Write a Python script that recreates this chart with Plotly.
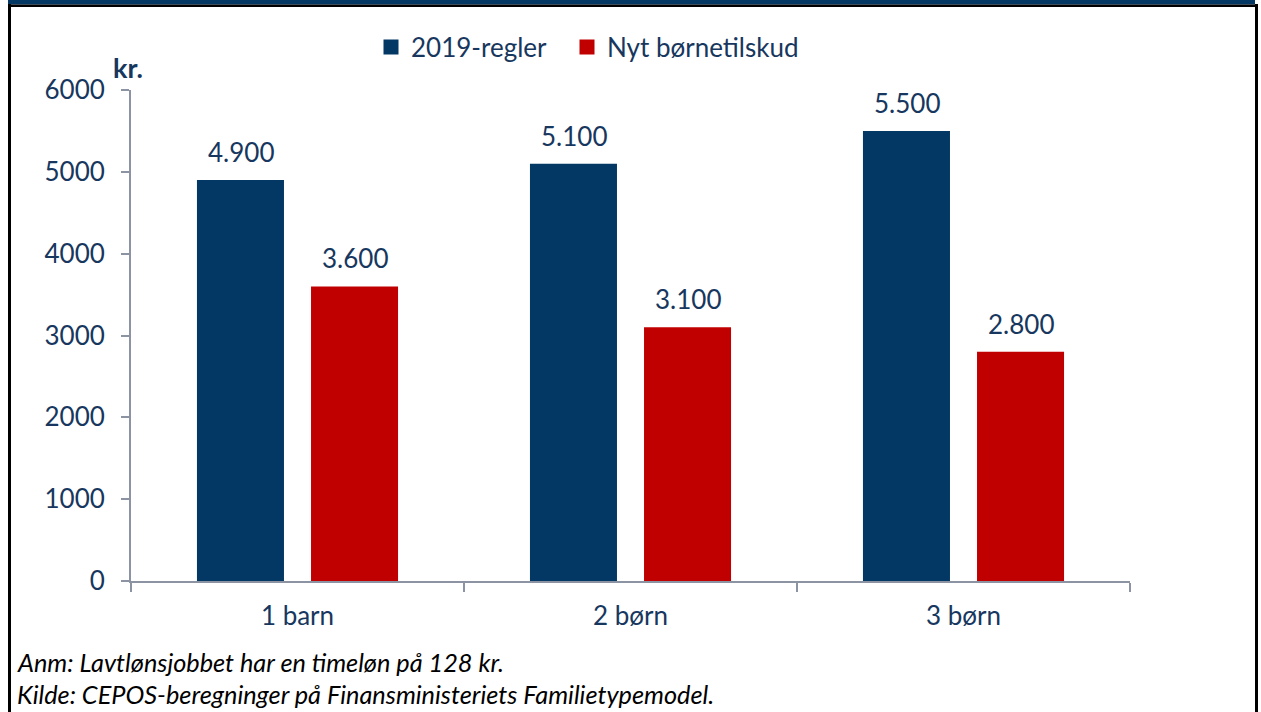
import plotly.graph_objects as go

categories = ["1 barn", "2 børn", "3 børn"]
regler_2019 = [4900, 5100, 5500]
nyt_tilskud = [3600, 3100, 2800]
labels_2019 = ["4.900", "5.100", "5.500"]
labels_nyt = ["3.600", "3.100", "2.800"]
y_ticks = [0, 1000, 2000, 3000, 4000, 5000, 6000]

NAVY = "#033864"
RED = "#C00000"
TXT = "#17375E"
AX = "#8C94A3"
FONT = "Lato"

W, H = 1261, 712
L, R, T, B = 131, 131, 90, 131
PW = W - L - R
PH = H - T - B


def px(xp):
    return (xp - L) / PW


def py(yp):
    return (H - B - yp) / PH


fig = go.Figure()
fig.add_bar(x=categories, y=regler_2019, name="2019-regler", marker_color=NAVY,
            marker_line_width=0, showlegend=False)
fig.add_bar(x=categories, y=nyt_tilskud, name="Nyt børnetilskud", marker_color=RED,
            marker_line_width=0, showlegend=False)
# legend entries with square symbols
fig.add_scatter(x=[None], y=[None], mode="markers", name="2019-regler",
                marker=dict(symbol="square", size=15, color=NAVY), legend="legend")
fig.add_scatter(x=[None], y=[None], mode="markers", name="Nyt børnetilskud",
                marker=dict(symbol="square", size=15, color=RED), legend="legend2")

annotations = []
for c, v, t in zip(categories, regler_2019, labels_2019):
    annotations.append(dict(x=c, y=v, text=t, showarrow=False, xref="x", yref="y",
                            xshift=-57, yshift=10, yanchor="bottom",
                            font=dict(family=FONT, size=26, color=TXT)))
for c, v, t in zip(categories, nyt_tilskud, labels_nyt):
    annotations.append(dict(x=c, y=v, text=t, showarrow=False, xref="x", yref="y",
                            xshift=57, yshift=10, yanchor="bottom",
                            font=dict(family=FONT, size=26, color=TXT)))

annotations.append(dict(x=px(111), y=py(68), xref="paper", yref="paper", text="<b>kr.</b>",
                        showarrow=False, xanchor="left", yanchor="middle",
                        font=dict(family=FONT, size=27, color=TXT)))
annotations.append(dict(x=px(15), y=py(662), xref="paper", yref="paper",
                        text="<i>Anm: Lavtlønsjobbet har en timeløn på 128 kr.</i>",
                        showarrow=False, xanchor="left", yanchor="middle",
                        font=dict(family=FONT, size=25.3, color="#000000")))
annotations.append(dict(x=px(15), y=py(694), xref="paper", yref="paper",
                        text="<i>Kilde: CEPOS-beregninger på Finansministeriets Familietypemodel.</i>",
                        showarrow=False, xanchor="left", yanchor="middle",
                        font=dict(family=FONT, size=25.3, color="#000000")))

shapes = [
    dict(type="rect", xref="paper", yref="paper", x0=px(8), x1=px(1255), y0=py(0), y1=py(4.5),
         fillcolor=NAVY, line_width=0, layer="above"),
    dict(type="rect", xref="paper", yref="paper", x0=px(8), x1=px(1258), y0=py(4.5), y1=py(7),
         fillcolor="#000000", line_width=0, layer="above"),
    dict(type="rect", xref="paper", yref="paper", x0=px(8), x1=px(11), y0=py(4), y1=py(712),
         fillcolor="#000000", line_width=0, layer="above"),
    dict(type="rect", xref="paper", yref="paper", x0=px(1255), x1=px(1258), y0=py(4), y1=py(712),
         fillcolor="#000000", line_width=0, layer="above"),
]

legend_common = dict(orientation="h", xanchor="left", yanchor="middle",
                     font=dict(family=FONT, size=26, color=TXT), itemwidth=30,
                     bgcolor="rgba(0,0,0,0)")

fig.update_layout(
    width=W, height=H,
    margin=dict(l=L, r=R, t=T, b=B, pad=0),
    paper_bgcolor="white", plot_bgcolor="white",
    barmode="group", bargap=0.315, bargroupgap=0.237,
    font=dict(family=FONT, size=26, color=TXT),
    showlegend=True,
    legend=dict(x=px(371), y=py(47), **legend_common),
    legend2=dict(x=px(567), y=py(47), **legend_common),
    annotations=annotations,
    shapes=shapes,
)
fig.update_xaxes(showline=True, linecolor=AX, linewidth=2, ticks="outside",
                 tickson="boundaries", ticklen=9, tickwidth=2, tickcolor=AX,
                 showgrid=False, zeroline=False,
                 tickfont=dict(family=FONT, size=26, color=TXT), ticklabelstandoff=11)
fig.update_yaxes(range=[0, 6000], tickvals=y_ticks, showline=True, linecolor=AX, linewidth=2,
                 ticks="outside", ticklen=8, tickwidth=2, tickcolor=AX,
                 showgrid=False, zeroline=False, tickformat="d",
                 tickfont=dict(family=FONT, size=26, color=TXT), ticklabelstandoff=11)

fig.write_html("out.html", config={"displayModeBar": False},
               post_script="document.body.style.margin='0';")
